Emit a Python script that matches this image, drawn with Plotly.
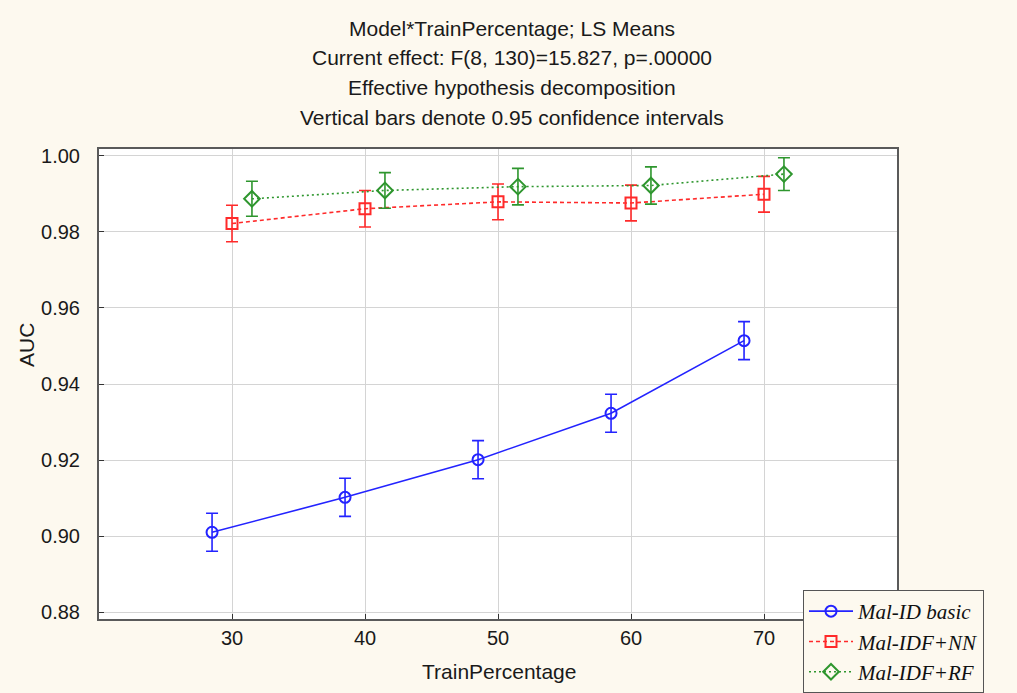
import plotly.graph_objects as go

# ---- data ----
train_pct = [30, 40, 50, 60, 70]
series_names = ["Mal-ID basic", "Mal-IDF+NN", "Mal-IDF+RF"]
x_offsets = [-1.5, 0.0, 1.5]
auc_basic = [0.9010, 0.9102, 0.9201, 0.9323, 0.9514]
auc_nn = [0.9822, 0.9861, 0.9879, 0.9876, 0.9899]
auc_rf = [0.9887, 0.9909, 0.9919, 0.9922, 0.9952]
ci_basic = [0.0050, 0.0050, 0.0050, 0.0050, 0.0050]
ci_nn = [0.0048, 0.0048, 0.0047, 0.0047, 0.0047]
ci_rf = [0.0046, 0.0047, 0.0048, 0.0049, 0.0043]
title_lines = [
    "Model*TrainPercentage; LS Means",
    "Current effect: F(8, 130)=15.827, p=.00000",
    "Effective hypothesis decomposition",
    "Vertical bars denote 0.95 confidence intervals",
]

W, H = 1017, 693
L, R, T, B = 99, 120, 149, 74
PW, PH = W - L - R, H - T - B

def px_to_py(ypix):
    return (H - B - ypix) / PH

def px_to_px(xpix):
    return (xpix - L) / PW

styles = [
    dict(color="#2323ff", dash="solid", symbol="circle-open", size=11),
    dict(color="#ff2a2a", dash="4px,3px", symbol="square-open", size=11),
    dict(color="#2e962e", dash="2px,3px", symbol="diamond-open", size=12),
]
values = [auc_basic, auc_nn, auc_rf]
cis = [ci_basic, ci_nn, ci_rf]

fig = go.Figure()
for name, off, vals, ci, st in zip(series_names, x_offsets, values, cis, styles):
    fig.add_trace(go.Scatter(
        x=[t + off for t in train_pct], y=vals,
        name=f"<i>{name}</i>",
        mode="lines+markers",
        line=dict(color=st["color"], width=1.6, dash=st["dash"]),
        marker=dict(symbol=st["symbol"], size=st["size"], color=st["color"],
                    line=dict(width=2, color=st["color"])),
        error_y=dict(type="data", array=ci, color=st["color"], thickness=1.6, width=6),
    ))

font_main = "Liberation Sans, Arial, sans-serif"
annotations = []
for i, line in enumerate(title_lines):
    annotations.append(dict(
        text=line, x=px_to_px(512), y=px_to_py(28 + 29.7 * i), xref="paper", yref="paper",
        showarrow=False, xanchor="center", yanchor="middle",
        font=dict(family=font_main, size=21, color="#1a1a1a")))
annotations.append(dict(text="AUC", x=px_to_px(26), y=px_to_py(345), xref="paper", yref="paper",
                        showarrow=False, textangle=-90, xanchor="center", yanchor="middle",
                        font=dict(family=font_main, size=21, color="#1a1a1a")))
annotations.append(dict(text="TrainPercentage", x=px_to_px(499), y=px_to_py(671), xref="paper",
                        yref="paper", showarrow=False, xanchor="center", yanchor="middle",
                        font=dict(family=font_main, size=21, color="#1a1a1a")))

fig.update_layout(
    width=W, height=H,
    margin=dict(l=L, r=R, t=T, b=B, pad=0, autoexpand=False),
    paper_bgcolor="#fdf9ef",
    plot_bgcolor="#ffffff",
    showlegend=True,
    legend=dict(x=px_to_px(803), y=px_to_py(590), xanchor="left", yanchor="top",
                bgcolor="#fdf9ef", bordercolor="#555555", borderwidth=1,
                font=dict(family="Liberation Serif, Times New Roman, serif", size=21, color="#111111"),
                itemwidth=44, tracegroupgap=0),
    annotations=annotations,
)
fig.update_xaxes(range=[20, 80], tickvals=train_pct, ticks="inside", ticklen=5,
                 tickcolor="#333333", showgrid=True, gridcolor="#d4d4d4", gridwidth=1,
                 showline=True, linecolor="#5a5a5a", linewidth=2, mirror=True,
                 zeroline=False, ticklabelstandoff=0,
                 tickfont=dict(family=font_main, size=20, color="#1a1a1a"))
fig.update_yaxes(range=[0.8782, 1.0018], tickvals=[0.88, 0.90, 0.92, 0.94, 0.96, 0.98, 1.00],
                 tickformat=".2f", ticks="inside", ticklen=5, tickcolor="#333333",
                 showgrid=True, gridcolor="#d4d4d4", gridwidth=1,
                 showline=True, linecolor="#5a5a5a", linewidth=2, mirror=True,
                 zeroline=False, ticklabelstandoff=13,
                 tickfont=dict(family=font_main, size=20, color="#1a1a1a"))

fig.write_html("out.html")
